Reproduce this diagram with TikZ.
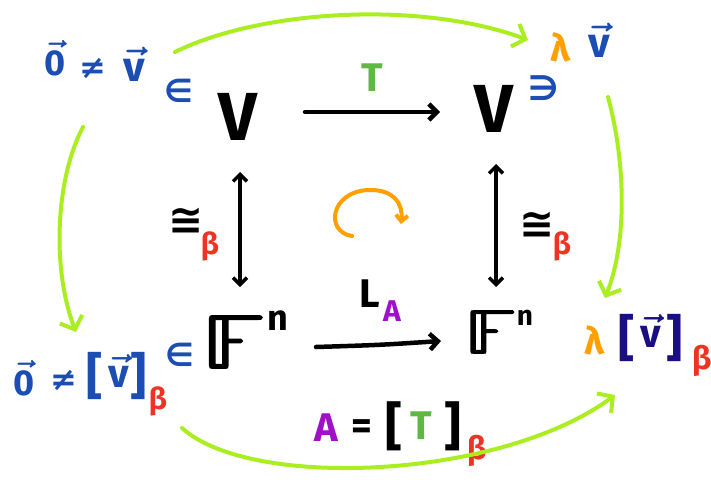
\RequirePackage{fix-cm}
\documentclass[tikz,border=0pt]{standalone}
\usepackage{amsmath,amssymb}
\usepackage{fontspec}
\setmainfont{Fira Sans}
\newfontfamily\dv{DejaVu Sans}
\newfontfamily\bbf[FakeBold=2.5]{Latin Modern Math}
\usetikzlibrary{arrows.meta}
\definecolor{vblue}{HTML}{1C4DB2}
\definecolor{lime}{HTML}{AAEE22}
\definecolor{tgreen}{HTML}{5DB944}
\definecolor{orng}{HTML}{FFA000}
\definecolor{bred}{HTML}{EE3322}
\definecolor{purp}{HTML}{A010C8}
\definecolor{navy}{HTML}{1A0F80}
\newcommand{\fs}[1]{\fontsize{#1}{#1}\selectfont}
\newcommand{\vv}[1]{{\boldmath$\vec{\text{#1}}$}}
\begin{document}
\begin{tikzpicture}[x=1pt,y=-1pt,
  lbl/.style={inner sep=0pt, outer sep=0pt, anchor=center},
  blk/.style={line width=4.5pt, line cap=round, line join=round, black},
  grn/.style={line width=4pt, line cap=round, line join=round, draw=lime},
  gtip/.style={-{Straight Barb[length=11pt,width=24pt]}},
  btip/.style={-{Straight Barb[length=8pt,width=16pt]}},
  dtip/.style={{Straight Barb[length=7pt,width=14pt]}-{Straight Barb[length=7pt,width=14pt]}},
  sym/.style={lbl, font=\dv\bfseries\fs{#1}},
  bt/.style={lbl, font=\bfseries\fs{#1}}
]
\useasboundingbox (0,0) rectangle (711,479);

% top row
\node[bt=68] (V1) at (238,117) {V};
\node[bt=68] (V2) at (494,109) {V};
\node[sym=34, text=vblue] (ni) at (544,88) {∋};
\node[bt=40, text=tgreen] (T) at (372,78) {T};
\coordinate (ta) at (305,112);
\coordinate (tb) at (440,112);
\draw[blk, btip] (ta) -- (tb);

% top-left
\node[bt=36, text=vblue] (z1) at (55,58) {\vv{0}};
\node[sym=32, text=vblue] (ne1) at (93,68) {≠};
\node[bt=42, text=vblue] (v1) at (134,64) {\vv{v}};
\node[sym=32, text=vblue] (in1) at (179,91) {∈};

% top-right
\node[bt=38, text=orng] (lam1) at (561,47) {λ};
\node[bt=42, text=vblue] (v2) at (599,40) {\vv{v}};

% verticals
\coordinate (la) at (240,172);
\coordinate (lb) at (240,287);
\draw[blk, line width=3.5pt, dtip] (la) -- (lb);
\coordinate (ra) at (496,164);
\coordinate (rb) at (496,287);
\draw[blk, line width=3.5pt, dtip] (ra) -- (rb);
\node[sym=42] (iso1) at (186,221) {≅};
\node[bt=30, text=bred] (b1) at (210,246) {β};
\node[sym=42] (iso2) at (537,225) {≅};
\node[bt=30, text=bred] (b2) at (562,246) {β};

% orange circular arrow
\coordinate (oa) at (352,236);
\coordinate (ob) at (401,224);
\draw[line width=4pt, line cap=round, draw=orng, -{Straight Barb[length=6pt,width=12pt]}]
  (oa) .. controls (325,232) and (330,192) .. (368,190)
       .. controls (395,189) and (403,205) .. (ob);

% bottom row
\node[lbl, font=\bbf\fs{76}] (F1) at (233,342) {\scalebox{1.35}[1]{𝔽}};
\node[bt=36] (n1) at (278,321) {n};
\node[lbl, font=\bbf\fs{62}] (F2) at (490,332) {\scalebox{1.35}[1]{𝔽}};
\node[bt=28] (n2) at (525,318) {n};
\coordinate (ba) at (316,347);
\coordinate (bb) at (441,341);
\draw[blk, btip] (ba) .. controls (380,345) .. (bb);
\node[bt=40] (L) at (370,294) {L};
\node[bt=30, text=purp] (LA) at (392,311) {A};

% bottom-left
\node[bt=36, text=vblue] (z2) at (24,378) {\vv{0}};
\node[sym=32, text=vblue] (ne2) at (64,380) {≠};
\node[bt=50, text=vblue] (lb1) at (95,376) {[};
\node[bt=40, text=vblue] (v3) at (119,371) {\vv{v}};
\node[bt=50, text=vblue] (rb1) at (139,376) {]};
\node[bt=30, text=bred] (b3) at (158,401) {β};
\node[sym=32, text=vblue] (in2) at (180,355) {∈};

% bottom-right
\node[bt=38, text=orng] (lam2) at (595,340) {λ};
\node[bt=50, text=navy] (lb2) at (627,338) {[};
\node[bt=40, text=navy] (v4) at (651,331) {\vv{v}};
\node[bt=50, text=navy] (rb2) at (675,338) {]};
\node[bt=32, text=bred] (b4) at (702,361) {β};

% A = [T]_beta
\node[bt=40, text=purp] (A) at (326,428) {A};
\node[bt=40] (eq) at (362,430) {=};
\node[bt=52] (lbr) at (394,426) {[};
\node[bt=40, text=tgreen] (T2) at (421,426) {T};
\node[bt=52] (rbr) at (453,426) {]};
\node[bt=32, text=bred] (b5) at (477,451) {β};

% green connectors
\coordinate (g1a) at (175,52);
\coordinate (g1b) at (528,40);
\draw[grn, gtip] (g1a) .. controls (260,10) and (420,0) .. (g1b);
\coordinate (g2a) at (83,127);
\coordinate (g2b) at (76,332);
\draw[grn, gtip] (g2a) .. controls (55,180) and (52,270) .. (g2b);
\coordinate (g3a) at (608,97);
\coordinate (g3b) at (605,298);
\draw[grn, gtip] (g3a) .. controls (625,160) and (628,240) .. (g3b);
\coordinate (g4a) at (182,428);
\coordinate (g4b) at (615,395);
\draw[grn, gtip] (g4a) .. controls (250,490) and (500,480) .. (g4b);
\end{tikzpicture}
\end{document}
